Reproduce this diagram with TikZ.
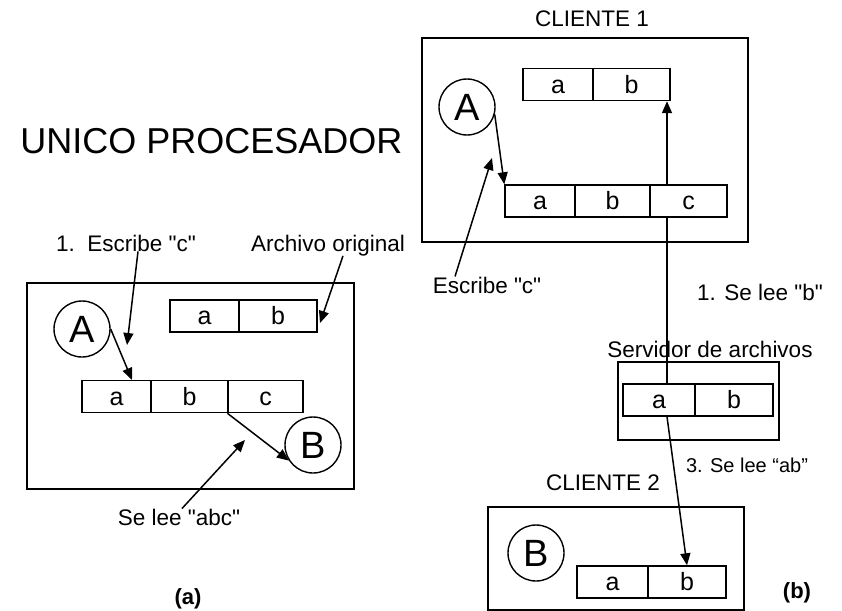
\documentclass[tikz,border=0pt]{standalone}
\usepackage{fontspec}
\setmainfont{Liberation Sans}
\usetikzlibrary{arrows.meta}
\newcommand{\dq}{\textquotedbl}
\begin{document}
\begin{tikzpicture}[x=1pt,y=-1pt,
  frame/.style={draw, line width=1.8pt, inner sep=0pt},
  cell/.style={draw, line width=1.4pt, inner sep=0pt, minimum height=32pt, text height=17pt, text depth=0pt, font=\fontsize{25}{28}\selectfont},
  proc/.style={circle, draw, line width=1.4pt, minimum size=56pt, inner sep=0pt, font=\fontsize{38}{40}\selectfont},
  lbl/.style={inner sep=0pt, anchor=base, font=\fontsize{22.5}{26}\selectfont},
  arr/.style={line width=1.5pt, -{Triangle[length=12pt,width=10pt]}}]
\useasboundingbox (0,0) rectangle (842,610);

% ---------------- (a) ----------------
\node[lbl, font=\fontsize{36}{40}\selectfont] (title) at (211.5,153) {UNICO PROCESADOR};
\node[frame, minimum width=327pt, minimum height=206pt] (L) at (190.5,386) {};
\node[cell, minimum width=69pt] (ta) at (204.5,316) {a};
\node[cell, minimum width=78pt] (tb) at (278,316) {b};
\node[cell, minimum width=69pt] (la) at (116.5,396.5) {a};
\node[cell, minimum width=77pt] (lb) at (189.5,396.5) {b};
\node[cell, minimum width=75pt] (lc) at (265.5,396.5) {c};
\node[proc] (A) at (82,329) {A};
\node[proc] (B) at (313,445) {B};
\node[lbl] (esc1) at (126,251) {1.~~Escribe \dq c\dq};
\node[lbl] (orig) at (328,251) {Archivo original};
\node[lbl] (lee1) at (179,525) {Se lee \dq abc\dq};
\node[lbl, font=\bfseries\fontsize{22}{26}\selectfont] (capa) at (188,604) {(a)};

\coordinate (e1) at (127,345);
\coordinate (e2) at (320,323);
\coordinate (e3) at (245,440);
\coordinate (e4) at (132,380);

\draw[arr] (A.east) -- (e4);
\draw[arr] (lc.south west) -- (B.213);
\draw[arr] ([xshift=12pt]esc1.south) -- (e1);
\draw[arr] ([xshift=15pt]orig.south) -- (e2);
\draw[arr] ([xshift=3pt]lee1.north) -- (e3);

% ---------------- (b) ----------------
\node[lbl] (cli1) at (592,27) {CLIENTE 1};
\node[frame, minimum width=326pt, minimum height=204pt] (C1) at (585,140) {};
\node[cell, minimum width=70pt] (a3) at (558,84.5) {a};
\node[cell, minimum width=77pt] (b3) at (631.5,84.5) {b};
\node[cell, minimum width=70pt] (a4) at (540,201) {a};
\node[cell, minimum width=75pt] (b4) at (612.5,201) {b};
\node[cell, minimum width=77pt] (c4) at (688.5,201) {c};
\node[proc] (A2) at (467,107) {A};
\node[lbl] (esc2) at (487,293) {Escribe \dq c\dq};
\node[lbl] (lee2) at (760,300) {1. Se lee \dq b\dq};

\node[lbl] (srvl) at (710,357) {Servidor de archivos};
\node[frame, minimum width=161pt, minimum height=78pt] (S) at (698.5,401) {};
\node[cell, minimum width=72pt] (sa) at (659,400) {a};
\node[cell, minimum width=78pt] (sb) at (734,400) {b};
\node[lbl, font=\fontsize{20}{24}\selectfont] (lee3) at (747,472) {3. Se lee “ab”};

\node[lbl] (cli2) at (603,490) {CLIENTE 2};
\node[frame, minimum width=256pt, minimum height=103pt] (C2) at (616,558.5) {};
\node[proc] (B2) at (536,553) {B};
\node[cell, minimum width=71pt] (a5) at (612.5,582) {a};
\node[cell, minimum width=78pt] (b5) at (687,582) {b};
\node[lbl, font=\bfseries\fontsize{22}{26}\selectfont] (capb) at (797,598) {(b)};

\coordinate (vx) at (667,0);
\coordinate (e5) at (492,158);

\draw[arr] (A2.-15) -- (a4.north west);
\draw[arr] ([xshift=-32pt]esc2.north) -- (e5);
\draw[line width=1.5pt] (sa.north -| vx) -- (c4.south -| vx);
\draw[arr] (c4.north -| vx) -- (b3.south -| vx);
\draw[arr] (sa.south -| vx) -- (b5.north);
\end{tikzpicture}
\end{document}
